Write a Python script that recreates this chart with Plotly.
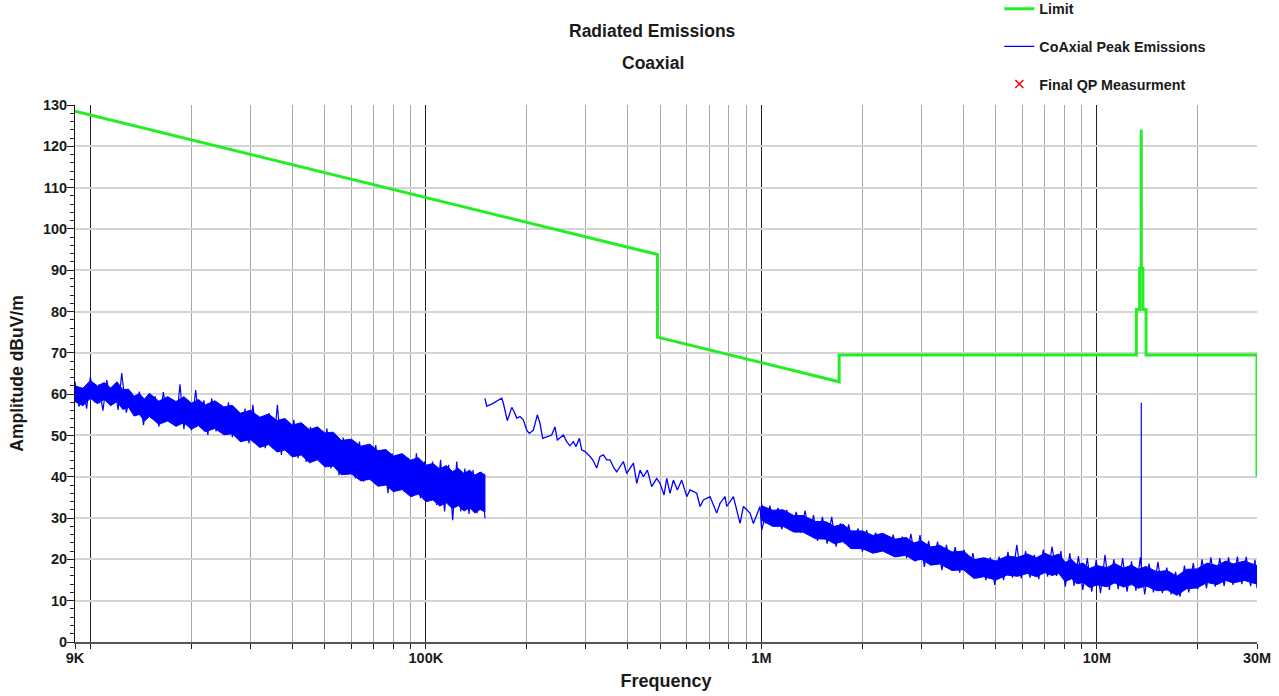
import plotly.graph_objects as go

# ---------------- data ----------------
# Limit line, frequency in Hz, level in dBuV/m
limit_freq = [9e3, 490e3, 490e3, 1.705e6, 1.705e6, 13.11e6, 13.11e6, 13.41e6, 13.41e6,
              13.553e6, 13.553e6, 13.567e6, 13.567e6, 13.71e6, 13.71e6, 14.01e6, 14.01e6,
              30e6, 30e6]
limit_level = [128.5, 93.8, 73.8, 63.0, 69.5, 69.5, 80.5, 80.5, 90.5,
               90.5, 124.0, 124.0, 90.5, 90.5, 80.5, 80.5, 69.5,
               69.5, 40.0]

# Peak emissions 9 kHz - 150 kHz: dense core of the noise band (upper / lower)
band1_freq_khz = [9, 9.5, 10, 10.5, 11, 11.5, 12, 12.5, 13, 13.5, 14, 14.5, 15, 16, 17, 18,
                  19, 20, 21, 22, 23.5, 25, 26.5, 28, 30, 32, 34, 36, 38, 40, 42.5, 45,
                  47.5, 50, 53, 56, 60, 64, 68, 72, 76, 80, 85, 90, 95, 100, 105, 110,
                  115, 120, 125, 130, 135, 140, 145, 150]
band1_upper = [62.0, 61.4, 63.3, 62.0, 62.8, 61.5, 63.0, 61.1, 61.2, 59.5, 60.1, 58.8, 60.2,
               58.3, 59.4, 58.2, 59.4, 57.8, 58.7, 57.4, 58.4, 56.9, 57.3, 55.4, 56.1, 54.4,
               55.2, 53.6, 54.1, 52.5, 53.1, 51.4, 52.1, 50.6, 50.8, 48.8, 49.1, 47.4, 47.9,
               46.3, 46.6, 45.0, 45.6, 44.0, 44.6, 42.8, 43.2, 41.9, 42.7, 41.3, 42.0, 40.8,
               41.6, 40.4, 41.1, 40.5]
band1_lower = [58.2, 57.2, 59.0, 57.7, 58.7, 57.2, 58.2, 56.3, 56.8, 54.7, 55.1, 53.5, 54.6,
               52.7, 53.5, 52.2, 53.1, 51.5, 52.4, 50.9, 51.7, 50.2, 50.4, 48.5, 49.0, 47.1,
               47.8, 46.0, 46.5, 44.8, 45.3, 43.4, 44.1, 42.4, 42.6, 40.5, 40.7, 39.0, 39.4,
               37.7, 38.0, 36.4, 36.9, 35.2, 35.8, 34.0, 34.4, 32.9, 33.7, 32.3, 33.0, 31.7,
               32.5, 31.2, 32.1, 31.5]

# Peak emissions 9 kHz - 150 kHz: individual noise spikes
spikes1_freq_khz = [9.0, 9.25, 9.5, 9.75, 10.0, 10.3, 10.6, 10.9, 11.2, 11.5, 11.8, 12.1, 12.4,
                    12.8, 13.2, 13.6, 14.0, 14.4, 14.8, 15.2, 15.6, 16.0, 16.5, 17.0, 17.5,
                    18.0, 18.5, 19.0, 19.5, 20.0, 20.6, 21.2, 21.8, 22.4, 23.0, 23.7, 24.4,
                    25.1, 25.8, 26.5, 27.3, 28.1, 28.9, 29.7, 30.5, 31.4, 32.3, 33.2, 34.1,
                    35.1, 36.1, 37.1, 38.2, 39.3, 40.4, 41.6, 42.8, 44.0, 45.3, 46.6, 47.9,
                    49.3, 50.7, 52.1, 53.6, 55.1, 56.7, 58.3, 60.0, 61.7, 63.4, 65.2, 67.0,
                    68.9, 70.9, 72.9, 75.0, 77.1, 79.3, 81.5, 83.8, 86.2, 88.6, 91.1, 93.7,
                    96.3, 99.0, 101.8, 104.7, 107.6, 110.6, 113.7, 116.9, 120.2, 123.6, 127.1,
                    130.7, 134.4, 138.2, 142.1, 146.1, 150.0]
spikes1_level = [63.0, 57.0, 61.5, 56.5, 64.2, 58.0, 62.3, 56.0, 63.4, 57.5, 61.8, 56.2, 65.1,
                 55.5, 60.4, 56.0, 60.6, 52.5, 59.0, 54.2, 59.5, 52.1, 60.5, 54.0, 58.4,
                 52.5, 62.4, 51.5, 58.6, 51.3, 61.0, 52.0, 58.5, 50.1, 59.0, 51.0, 57.2,
                 50.1, 58.0, 49.6, 56.0, 48.5, 56.5, 48.1, 57.4, 48.5, 54.5, 46.9, 55.4,
                 46.8, 57.4, 45.3, 53.5, 46.0, 53.8, 44.5, 52.5, 43.6, 52.1, 44.2, 50.8,
                 42.9, 51.7, 42.0, 50.1, 40.4, 49.5, 41.5, 48.9, 39.6, 48.5, 38.8, 47.5,
                 39.2, 47.7, 38.0, 46.1, 36.0, 45.7, 37.2, 45.3, 36.4, 44.6, 35.2, 45.7,
                 34.8, 43.7, 34.0, 43.7, 33.2, 44.1, 31.6, 42.9, 29.5, 43.7, 31.6,
                 42.0, 31.0, 41.6, 31.2, 41.2, 30.0]

# Peak emissions 150 kHz - ~1 MHz: single trace
line2_freq_khz = [150.0, 151.8, 157.1, 162.6, 168.3, 170.2, 174.9, 180.3, 183.1, 186.5, 190.8,
                  195.2, 199.8, 203.4, 209.1, 214.9, 218.9, 222.9, 231.7, 237.1, 242.6, 246.5,
                  256.9, 262.8, 268.9, 275.1, 280.2, 286.7, 291.3, 298.1, 308.5, 314.2, 322.9,
                  330.4, 338.1, 345.9, 353.9, 363.8, 370.5, 387.8, 396.8, 406.0, 415.5, 425.1,
                  434.9, 444.9, 457.3, 471.1, 487.5, 498.8, 512.7, 522.2, 534.2, 546.6, 561.8,
                  578.8, 599.0, 612.9, 641.6, 656.5, 671.7, 703.1, 735.9, 753.0, 779.3, 788.3,
                  825.2, 863.8, 883.7, 925.0, 946.5, 990.8, 1002, 1037, 1061]
line2_level = [59.0, 57.1, 57.6, 58.2, 59.0, 57.8, 53.6, 56.8, 55.8, 54.2, 54.6, 53.8, 51.3,
               50.5, 51.3, 55.0, 52.9, 49.3, 49.7, 50.1, 52.1, 48.9, 50.1, 48.5, 47.5, 48.5,
               47.3, 49.3, 46.5, 46.1, 44.9, 44.1, 42.1, 44.9, 45.3, 44.1, 44.1, 42.1, 41.2,
               43.7, 40.8, 42.1, 43.3, 38.4, 41.6, 40.0, 41.6, 37.6, 39.6, 38.4, 35.6, 39.6,
               36.0, 39.2, 36.8, 39.2, 35.2, 36.8, 36.0, 32.8, 34.4, 35.2, 31.2, 33.6, 35.2,
               32.8, 35.2, 28.7, 32.8, 31.2, 28.7, 32.8, 27.1, 32.0, 29.5]

# Peak emissions 1 MHz - 30 MHz: dense core of the noise band (upper / lower)
band3_freq_mhz = [1.0, 1.08, 1.16, 1.25, 1.33, 1.45, 1.56, 1.65, 1.75, 1.85, 2.0, 2.15, 2.3,
                  2.5, 2.7, 2.85, 3.0, 3.2, 3.4, 3.7, 4.0, 4.3, 4.6, 5.0, 5.4, 5.8, 6.2, 6.6,
                  7.0, 7.35, 7.7, 8.04, 8.4, 8.73, 9.1, 9.5, 10.0, 10.7, 11.3, 12.0, 12.7,
                  13.3, 14.0, 15.1, 16.2, 17.3, 18.5, 19.9, 21.3, 22.8, 24.2, 25.5, 27.5, 30.0]
band3_upper = [33.0, 31.9, 32.0, 30.6, 30.6, 29.2, 29.1, 28.0, 28.5, 26.9, 26.9, 25.8, 26.3,
               24.9, 25.3, 24.0, 24.5, 23.0, 23.4, 21.8, 22.0, 19.9, 20.4, 19.6, 20.8, 20.5,
               21.3, 20.4, 21.5, 20.7, 21.3, 19.3, 20.0, 18.7, 19.1, 17.8, 18.5, 18.0, 19.0,
               17.9, 18.6, 17.6, 18.3, 17.0, 17.3, 15.9, 17.6, 17.7, 19.1, 18.5, 19.6, 18.9,
               19.6, 18.5]
band3_lower = [29.5, 28.0, 28.0, 26.6, 26.6, 25.0, 24.9, 23.8, 24.3, 22.6, 22.6, 21.5, 22.0,
               20.6, 21.0, 19.7, 20.0, 18.6, 18.9, 17.3, 17.5, 15.4, 15.8, 15.0, 16.2, 15.9,
               16.6, 15.8, 16.8, 16.1, 16.6, 14.6, 15.3, 14.1, 14.4, 13.2, 13.8, 13.4, 14.3,
               13.3, 13.9, 13.0, 13.6, 12.4, 12.6, 11.3, 12.9, 13.1, 14.4, 13.9, 14.9, 14.3,
               14.9, 14.0]

# Peak emissions 1 MHz - 30 MHz: individual noise spikes
spikes3_freq_mhz = [1.0, 1.03, 1.06, 1.09, 1.12, 1.15, 1.19, 1.23, 1.27, 1.31, 1.35, 1.39, 1.43,
                    1.47, 1.52, 1.57, 1.62, 1.67, 1.72, 1.77, 1.82, 1.88, 1.94, 2.0, 2.06,
                    2.12, 2.19, 2.26, 2.33, 2.4, 2.47, 2.55, 2.63, 2.71, 2.79, 2.88, 2.97,
                    3.06, 3.15, 3.25, 3.35, 3.45, 3.56, 3.67, 3.78, 3.9, 4.02, 4.14, 4.27,
                    4.4, 4.53, 4.67, 4.81, 4.96, 5.11, 5.27, 5.43, 5.6, 5.77, 5.95, 6.13,
                    6.32, 6.51, 6.71, 6.92, 7.13, 7.35, 7.58, 7.81, 8.05, 8.3, 8.55, 8.81,
                    9.08, 9.36, 9.65, 9.95, 10.25, 10.57, 10.89, 11.23, 11.57, 11.93, 12.3,
                    12.68, 13.07, 13.47, 13.88, 14.3, 14.74, 15.2, 15.67, 16.15, 16.65, 17.16,
                    17.69, 18.23, 18.79, 19.37, 19.97, 20.58, 21.21, 21.86, 22.53, 23.23,
                    23.94, 24.68, 25.44, 26.22, 27.03, 27.86, 28.72, 29.6, 30.0]
spikes3_level = [33.6, 28.7, 33.0, 28.0, 32.5, 27.3, 32.0, 27.0, 31.5, 26.5, 31.8, 25.9, 30.7,
                 24.5, 30.3, 23.8, 30.3, 23.1, 28.7, 23.9, 28.5, 22.8, 27.5, 21.9, 27.1,
                 22.0, 26.5, 21.9, 25.9, 21.5, 26.0, 20.8, 25.5, 20.3, 26.2, 19.5, 25.9,
                 18.2, 24.5, 18.8, 24.3, 17.4, 23.5, 17.6, 23.0, 16.8, 22.3, 16.6, 21.5,
                 15.4, 20.3, 15.0, 20.5, 13.8, 20.7, 15.0, 21.8, 15.6, 23.5, 15.4, 22.0,
                 15.6, 21.1, 15.2, 22.4, 15.8, 23.1, 16.0, 22.0, 13.4, 21.5, 13.6, 20.8,
                 12.6, 20.3, 12.2, 19.9, 11.8, 21.1, 12.6, 20.0, 12.8, 20.3, 12.2,
                 19.5, 12.4, 20.5, 11.5, 19.0, 12.0, 19.4, 11.8, 18.0, 11.5, 17.0,
                 11.0, 18.5, 12.0, 19.1, 12.8, 20.0, 13.0, 20.5, 13.4, 20.3,
                 13.5, 20.5, 13.8, 20.7, 14.0, 20.6, 13.5, 19.9, 13.0]

# Narrow carrier at 13.56 MHz
spike_freq = [13.56e6, 13.56e6]
spike_level = [16.0, 57.9]

# Final QP measurements (none plotted)
qp_freq = []
qp_level = []

# Axis ticks
x_major_vals = [9e3, 1e4, 1e5, 1e6, 1e7, 3e7]
x_major_text = ["9K", "", "100K", "1M", "10M", "30M"]
x_minor_vals = [m * d for d in (1e4, 1e5, 1e6) for m in range(2, 10)] + [2e7]

assert len(band1_freq_khz) == len(band1_upper) == len(band1_lower)
assert len(spikes1_freq_khz) == len(spikes1_level)
assert len(line2_freq_khz) == len(line2_level)
assert len(band3_freq_mhz) == len(band3_upper) == len(band3_lower)
assert len(spikes3_freq_mhz) == len(spikes3_level)

BLUE = "#0000ff"
GREEN = "#22ee22"
FONT = "Liberation Sans, Arial, sans-serif"
TXT = "#1a1a1a"


def band_polygon(freqs, upper, lower):
    xs = list(freqs) + list(reversed(freqs)) + [freqs[0]]
    ys = list(upper) + list(reversed(lower)) + [upper[0]]
    return xs, ys


fig = go.Figure()

b1x, b1y = band_polygon([f * 1e3 for f in band1_freq_khz], band1_upper, band1_lower)
fig.add_trace(go.Scatter(x=b1x, y=b1y, mode="lines", fill="toself", fillcolor=BLUE,
                         line=dict(color=BLUE, width=1), showlegend=False,
                         legendgroup="peak", hoverinfo="skip"))
fig.add_trace(go.Scatter(x=[f * 1e3 for f in spikes1_freq_khz], y=spikes1_level, mode="lines",
                         line=dict(color=BLUE, width=1.2), showlegend=False,
                         legendgroup="peak"))
fig.add_trace(go.Scatter(x=[f * 1e3 for f in line2_freq_khz], y=line2_level, mode="lines",
                         line=dict(color=BLUE, width=1.3), name="CoAxial Peak Emissions",
                         legendgroup="peak", legendrank=2))
b3x, b3y = band_polygon([f * 1e6 for f in band3_freq_mhz], band3_upper, band3_lower)
fig.add_trace(go.Scatter(x=b3x, y=b3y, mode="lines", fill="toself", fillcolor=BLUE,
                         line=dict(color=BLUE, width=1), showlegend=False,
                         legendgroup="peak", hoverinfo="skip"))
fig.add_trace(go.Scatter(x=[f * 1e6 for f in spikes3_freq_mhz], y=spikes3_level, mode="lines",
                         line=dict(color=BLUE, width=1.2), showlegend=False,
                         legendgroup="peak"))
fig.add_trace(go.Scatter(x=spike_freq, y=spike_level, mode="lines",
                         line=dict(color=BLUE, width=1.2), showlegend=False,
                         legendgroup="peak"))

fig.add_trace(go.Scatter(x=limit_freq, y=limit_level, mode="lines",
                         line=dict(color=GREEN, width=3), name="Limit",
                         legendgroup="limit", legendrank=1))

fig.add_trace(go.Scatter(x=qp_freq if qp_freq else [None], y=qp_level if qp_level else [None],
                         mode="markers",
                         marker=dict(symbol="x-thin", size=8, color="red",
                                     line=dict(color="red", width=1.5)),
                         name="Final QP Measurment", legendgroup="qp", legendrank=3))

bold = dict(family=FONT, color=TXT, weight="bold")

fig.update_layout(
    width=1279, height=696,
    margin=dict(l=75, r=22, t=105, b=54, autoexpand=False),
    paper_bgcolor="white", plot_bgcolor="white",
    font=dict(family=FONT, size=14, color=TXT),
    showlegend=True,
    legend=dict(x=0.782, xanchor="left", y=1.0 + 112 / 537, yref="paper", yanchor="top",
                tracegroupgap=16, font=dict(size=14.3, **bold),
                bgcolor="rgba(0,0,0,0)", itemwidth=30),
    annotations=[
        dict(text="Radiated Emissions", x=0.489, y=1.0 + 74 / 537, xref="paper",
             yref="paper", showarrow=False, xanchor="center", yanchor="middle",
             font=dict(size=17.5, **bold)),
        dict(text="Coaxial", x=0.489, y=1.0 + 42 / 537, xref="paper",
             yref="paper", showarrow=False, xanchor="center", yanchor="middle",
             font=dict(size=17.5, **bold)),
    ],
    xaxis=dict(
        type="log", range=[3.954243, 7.477121],
        tickmode="array", tickvals=x_major_vals, ticktext=x_major_text,
        tickfont=dict(size=14.5, **bold), ticklabelstandoff=-3,
        showgrid=True, gridcolor="#222222", gridwidth=1,
        ticks="outside", ticklen=5, tickcolor="#222222",
        minor=dict(tickmode="array", tickvals=x_minor_vals, showgrid=True,
                   gridcolor="#a8a8a8", gridwidth=1, ticks="outside", ticklen=5,
                   tickcolor="#222222"),
        showline=True, linecolor="#555555", linewidth=2,
        zeroline=False,
        title=dict(text="Frequency", font=dict(size=18, **bold), standoff=9),
    ),
    yaxis=dict(
        range=[0, 130], tickmode="linear", tick0=0, dtick=10,
        tickfont=dict(size=14.5, **bold), ticklabelstandoff=-3,
        showgrid=True, gridcolor="#d4d4d4", gridwidth=2,
        ticks="outside", ticklen=7, tickcolor="#222222",
        minor=dict(dtick=2, ticks="outside", ticklen=4, tickcolor="#222222", showgrid=False),
        showline=True, linecolor="#111111", linewidth=1,
        zeroline=False,
        title=dict(text="Amplitude dBuV/m", font=dict(size=17.5, **bold), standoff=14),
    ),
    yaxis2=dict(
        range=[0, 130], overlaying="y", side="left", matches="y",
        tickmode="linear", tick0=0, dtick=10, showticklabels=False,
        ticks="inside", ticklen=5, tickcolor="#222222",
        minor=dict(dtick=2, ticks="inside", ticklen=5, tickcolor="#222222", showgrid=False),
        showgrid=False, zeroline=False, showline=False,
    ),
)

fig.write_html("out.html")
